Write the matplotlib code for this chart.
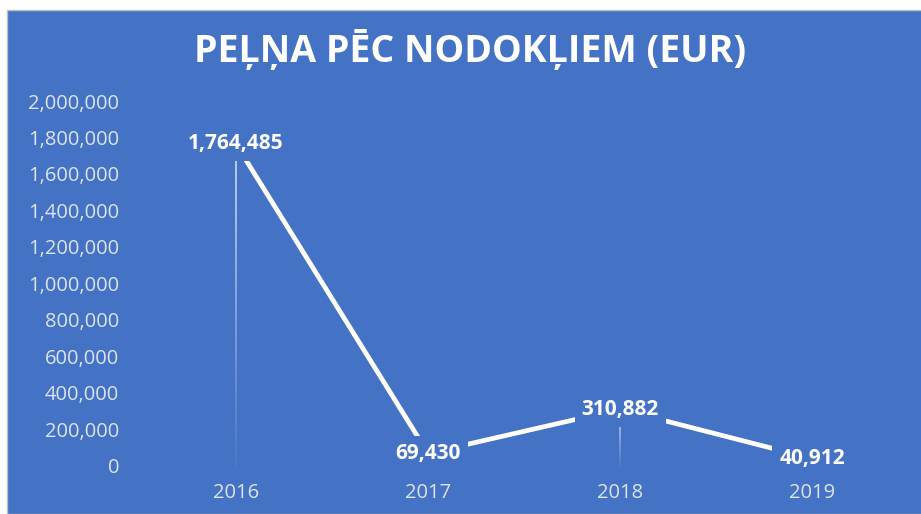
import matplotlib.pyplot as plt
from matplotlib.patches import Rectangle
from matplotlib.ticker import FuncFormatter
import numpy as np

years = ['2016', '2017', '2018', '2019']
profit = [1764485, 69430, 310882, 40912]
labels = ['1,764,485', '69,430', '310,882', '40,912']
drop_years = [0, 2]  # which points get a faint drop line

bg = '#4472C4'
plt.rcParams['font.family'] = ['Open Sans', 'DejaVu Sans']

fig = plt.figure(figsize=(9.21, 5.14), dpi=100, facecolor='white')
# blue chart area, white strip on the top and left like the screenshot
fig.patches.append(Rectangle((7 / 921, 0), 1, (514 - 10) / 514,
                             transform=fig.transFigure, facecolor=bg,
                             edgecolor='#BFBFBF', lw=1, zorder=-5))

ax = fig.add_axes([0.152, 0.0934, 0.834, 0.7101])
ax.set_zorder(2)
ax.set_facecolor('none')
x = np.arange(len(years))

# faint drop lines
for i in drop_years:
    n = 40
    ys = np.linspace(0, profit[i], n + 1)
    for k in range(n):
        ax.plot([x[i], x[i]], [ys[k], ys[k + 1]], color='white',
                lw=1.2, alpha=0.05 + 0.75 * k / n, solid_capstyle='butt',
                zorder=1)

ax.plot(x, profit, color='white', lw=3.4, zorder=2)

for xi, yi, lab in zip(x, profit, labels):
    ax.text(xi, yi, lab, ha='center', va='center', color='white',
            fontsize=15, fontweight='bold', zorder=3,
            bbox=dict(facecolor=bg, edgecolor='none', pad=5))

ax.set_xlim(-0.5, len(years) - 0.5)
ax.set_ylim(0, 2000000)
ax.set_yticks(np.arange(0, 2000001, 200000))
ax.yaxis.set_major_formatter(FuncFormatter(lambda v, p: f'{int(v):,}'))
ax.set_xticks(x)
ax.set_xticklabels(years)
ax.tick_params(colors='#DDE3EE', labelsize=14.5, length=0)
ax.tick_params(axis='x', pad=12)
ax.tick_params(axis='y', pad=15)
for s in ax.spines.values():
    s.set_visible(False)

fig.text(0.51, 0.902, 'PEĻŅA PĒC NODOKĻIEM (EUR)', ha='center', va='center',
         color='white', fontsize=27, fontweight='bold')

fig.savefig('out.png', dpi=100, facecolor='white')
